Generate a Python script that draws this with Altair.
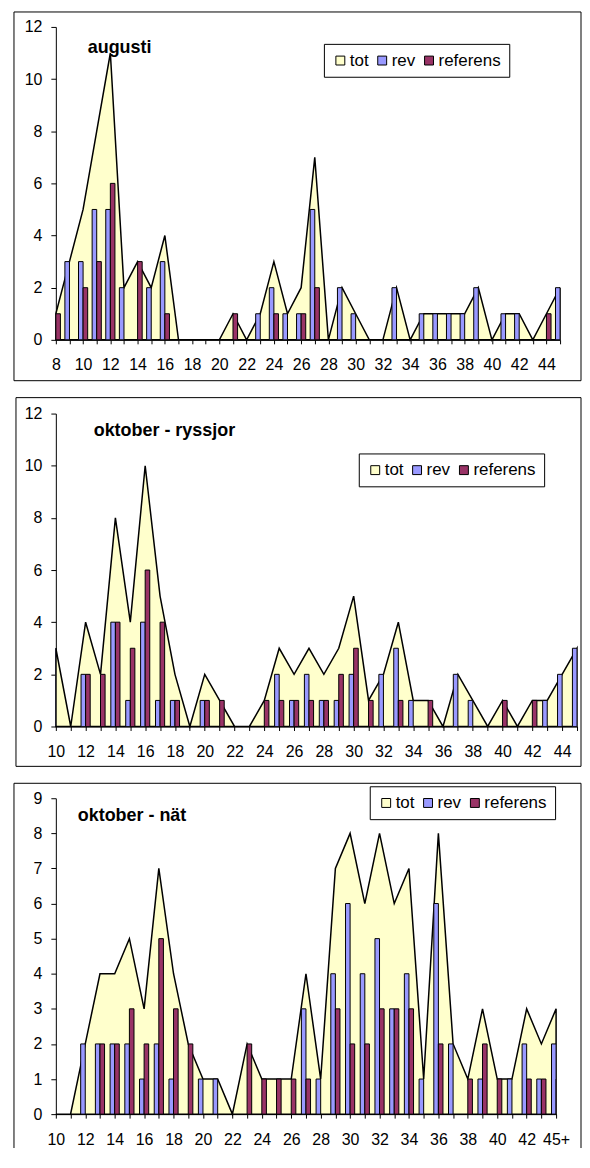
import json
import altair as alt
import pandas as pd

FONT = "Liberation Sans"

# ---------------- data ----------------
cats1 = ["8", "9", "10", "11", "12", "13", "14", "15", "16", "17", "18", "19", "20",
         "21", "22", "23", "24", "25", "26", "27", "28", "29", "30", "31", "32", "33",
         "34", "35", "36", "37", "38", "39", "40", "41", "42", "43", "44", "45"]
tot1 = [1, 3, 5, 8, 11, 2, 3, 2, 4, 0, 0, 0, 0, 1, 0, 1, 3, 1, 2, 7, 0, 2, 1, 0, 0, 2,
        0, 1, 1, 1, 1, 2, 0, 1, 1, 0, 1, 2]
rev1 = [0, 3, 3, 5, 5, 2, 0, 2, 3, 0, 0, 0, 0, 0, 0, 1, 2, 1, 1, 5, 0, 2, 1, 0, 0, 2,
        0, 1, 1, 1, 1, 2, 0, 1, 1, 0, 0, 2]
ref1 = [1, 0, 2, 3, 6, 0, 3, 0, 1, 0, 0, 0, 0, 1, 0, 0, 1, 0, 1, 2, 0, 0, 0, 0, 0, 0,
        0, 0, 0, 0, 0, 0, 0, 0, 0, 0, 1, 0]
labels1 = ["8", "10", "12", "14", "16", "18", "20", "22", "24", "26", "28", "30", "32",
           "34", "36", "38", "40", "42", "44"]

cats2 = ["10", "11", "12", "13", "14", "15", "16", "17", "18", "19", "20", "21", "22",
         "23", "24", "25", "26", "27", "28", "29", "30", "31", "32", "33", "34", "35",
         "36", "37", "38", "39", "40", "41", "42", "43", "44", "45"]
tot2 = [3, 0, 4, 2, 8, 4, 10, 5, 2, 0, 2, 1, 0, 0, 1, 3, 2, 3, 2, 3, 5, 1, 2, 4, 1, 1,
        0, 2, 1, 0, 1, 0, 1, 1, 2, 3]
rev2 = [3, 0, 2, 0, 4, 1, 4, 1, 1, 0, 1, 0, 0, 0, 0, 2, 1, 2, 1, 1, 2, 0, 2, 3, 1, 0,
        0, 2, 1, 0, 0, 0, 0, 1, 2, 3]
ref2 = [0, 0, 2, 2, 4, 3, 6, 4, 1, 0, 1, 1, 0, 0, 1, 1, 1, 1, 1, 2, 3, 1, 0, 1, 0, 1,
        0, 0, 0, 0, 1, 0, 1, 0, 0, 0]
labels2 = ["10", "12", "14", "16", "18", "20", "22", "24", "26", "28", "30", "32", "34",
           "36", "38", "40", "42", "44"]

cats3 = ["10", "11", "12", "13", "14", "15", "16", "17", "18", "19", "20", "21", "22",
         "23", "24", "25", "26", "27", "28", "29", "30", "31", "32", "33", "34", "35",
         "36", "37", "38", "39", "40", "41", "42", "43", "45+"]
tot3 = [0, 0, 2, 4, 4, 5, 3, 7, 4, 2, 1, 1, 0, 2, 1, 1, 1, 4, 1, 7, 8, 6, 8, 6, 7, 1,
        8, 2, 1, 3, 1, 1, 3, 2, 3]
rev3 = [0, 0, 2, 2, 2, 2, 1, 2, 1, 0, 1, 1, 0, 0, 0, 0, 0, 3, 1, 4, 6, 4, 5, 3, 4, 1,
        6, 2, 0, 1, 0, 1, 2, 1, 2]
ref3 = [0, 0, 0, 2, 2, 3, 2, 5, 3, 2, 0, 0, 0, 2, 1, 1, 1, 1, 0, 3, 2, 2, 3, 3, 3, 0,
        2, 0, 1, 2, 1, 0, 1, 1, 1]
labels3 = ["10", "12", "14", "16", "18", "20", "22", "24", "26", "28", "30", "32", "34",
           "36", "38", "40", "42", "45+"]

series_names = ["tot", "rev", "referens"]
series_colors = ["#FFFFCC", "#9999FF", "#993366"]

BAR_W = 4.6


def frame_layers(w, h, border, open_bottom):
    bx1, bx2, by1, by2 = border
    base = alt.Chart(pd.DataFrame({"b": [0]}))
    if not open_bottom:
        return [base.mark_rect(fillOpacity=0, stroke="black", strokeWidth=1).encode(
            x=alt.value(bx1), x2=alt.value(w + bx2),
            y=alt.value(by1), y2=alt.value(h + by2))]
    rule = base.mark_rule(color="black", strokeWidth=1)
    return [
        rule.encode(x=alt.value(bx1), x2=alt.value(w + bx2), y=alt.value(by1)),
        rule.encode(x=alt.value(bx1), y=alt.value(by1), y2=alt.value(h + by2)),
        rule.encode(x=alt.value(w + bx2), y=alt.value(by1), y2=alt.value(h + by2)),
    ]


def panel(title, cats, tot, rev, ref, labels, ymax, yvals, w, h,
          border, legend_xy, title_xy, open_bottom=False):
    df = pd.DataFrame({"cat": cats, "tot": tot, "rev": rev, "ref": ref})
    xscale = alt.Scale(type="point", padding=0, domain=cats)
    yscale = alt.Scale(domain=[0, ymax], nice=False)
    xaxis = alt.Axis(
        title=None, labelAngle=0, labelOverlap=False,
        labelExpr="indexof(" + json.dumps(labels) + ", datum.value) >= 0 ? datum.label : ''",
    )
    yaxis = alt.Axis(title=None, values=yvals, grid=False)
    fscale = alt.Scale(domain=series_names, range=series_colors)
    legend = alt.Legend(
        orient="none", legendX=legend_xy[0], legendY=legend_xy[1],
        direction="horizontal", columns=3, title=None,
        symbolType="square", symbolSize=80, symbolStrokeColor="black",
        symbolStrokeWidth=1, labelFontSize=17, labelFont=FONT, labelColor="black",
        strokeColor="black", fillColor="white", padding=8, columnPadding=5,
        labelOffset=1,
    )

    area = alt.Chart(df).transform_calculate(series="'tot'").mark_area(
        stroke="black", strokeWidth=1.5
    ).encode(
        x=alt.X("cat:O", scale=xscale, axis=xaxis, sort=cats),
        y=alt.Y("tot:Q", scale=yscale, axis=yaxis),
        fill=alt.Fill("series:N", scale=fscale, legend=legend),
    )

    blue = alt.Chart(df).transform_filter("datum.rev > 0").transform_calculate(
        series="'rev'"
    ).mark_bar(
        width=BAR_W, xOffset=-BAR_W / 2, stroke="black", strokeWidth=1, clip=True
    ).encode(
        x=alt.X("cat:O", scale=xscale, axis=xaxis, sort=cats),
        y=alt.Y("rev:Q", scale=yscale, axis=yaxis),
        fill=alt.Fill("series:N", scale=fscale, legend=legend),
    )

    red = alt.Chart(df).transform_filter("datum.ref > 0").transform_calculate(
        series="'referens'"
    ).mark_bar(
        width=BAR_W, xOffset=BAR_W / 2, stroke="black", strokeWidth=1, clip=True
    ).encode(
        x=alt.X("cat:O", scale=xscale, axis=xaxis, sort=cats),
        y=alt.Y("ref:Q", scale=yscale, axis=yaxis),
        fill=alt.Fill("series:N", scale=fscale, legend=legend),
    )

    ttl = alt.Chart(pd.DataFrame({"t": [title]})).mark_text(
        align="left", baseline="alphabetic", fontWeight="bold", fontSize=18,
        font=FONT, color="black"
    ).encode(text="t:N", x=alt.value(title_xy[0]), y=alt.value(title_xy[1]))

    layers = frame_layers(w, h, border, open_bottom) + [area, blue, red, ttl]
    return alt.layer(*layers).properties(width=w, height=h)


p1 = panel("augusti", cats1, tot1, rev1, ref1, labels1, 12, [0, 2, 4, 6, 8, 10, 12],
           506, 314, (-42, 21, -15, 41), (269, 17), (32, 26))
p2 = panel("oktober - ryssjor", cats2, tot2, rev2, ref2, labels2, 12,
           [0, 2, 4, 6, 8, 10, 12], 523, 314, (-40, 4, -16, 40), (304, 40), (38, 23))
p3 = panel("oktober - nät", cats3, tot3, rev3, ref3, labels3, 9,
           [0, 1, 2, 3, 4, 5, 6, 7, 8, 9], 502, 317, (-42, 25, -15, 34), (315, -12), (22, 23),
           open_bottom=True)

chart = alt.vconcat(p1, p2, p3, spacing=15).resolve_scale(
    x="independent", y="independent", fill="independent"
).resolve_legend(fill="independent").properties(
    padding={"left": 5, "top": 1, "right": 0, "bottom": 0},
).configure_view(strokeWidth=0).configure_axis(
    domainColor="black", tickColor="black", labelColor="black", labelFont=FONT,
    labelFontSize=16, grid=False, domainWidth=1, tickWidth=1
).configure_axisX(tickSize=4, labelPadding=13).configure_axisY(
    tickSize=5, labelPadding=9
)

chart.save("out.html", embed_options={"renderer": "svg", "actions": False})
